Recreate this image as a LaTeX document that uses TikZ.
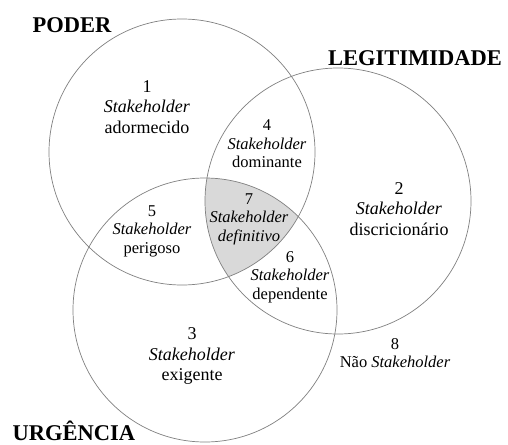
\documentclass[tikz,border=0pt]{standalone}
\usepackage{fontspec}
\setmainfont{Liberation Serif}
\begin{document}
\begin{tikzpicture}[x=1pt,y=-1pt,
  ring/.style={draw=black!50,line width=0.7pt},
  title/.style={font=\fontsize{22.5}{24}\selectfont\bfseries,inner sep=0pt},
  big/.style={align=center,inner sep=0pt,font=\fontsize{18}{20.5}\selectfont},
  small/.style={align=center,inner sep=0pt,font=\fontsize{16.5}{18.5}\selectfont}]
\useasboundingbox (0,0) rectangle (508,444);
\fill[white] (0,0) rectangle (508,444);
\begin{scope}
  \clip (182,152) circle (133);
  \clip (338,201) circle (133);
  \fill[black!15] (205,310) circle (132);
\end{scope}
\draw[ring] (182,152) circle (133);
\draw[ring] (338,201) circle (133);
\draw[ring] (205,310) circle (132);
\node[title] (tp) at (72,25) {PODER};
\node[title] (tl) at (415,58) {LEGITIMIDADE};
\node[title,anchor=base] (tu) at (74,440) {URGÊNCIA};
\node[big] (n1) at (147,107) {1\\\textit{Stakeholder}\\adormecido};
\node[big] (n2) at (399,209) {2\\\textit{Stakeholder}\\discricionário};
\node[big] (n3) at (192,356) {3\\\textit{Stakeholder}\\exigente};
\node[small] (n4) at (267,144) {4\\\textit{Stakeholder}\\dominante};
\node[small] (n5) at (152,231) {5\\\textit{Stakeholder}\\perigoso};
\node[small] (n6) at (290,277) {6\\\textit{Stakeholder}\\dependente};
\node[small] (n7) at (249,219) {7\\\textit{Stakeholder}\\\textit{definitivo}};
\node[small] (n8) at (395,353) {8\\Não \textit{Stakeholder}};
\end{tikzpicture}
\end{document}
